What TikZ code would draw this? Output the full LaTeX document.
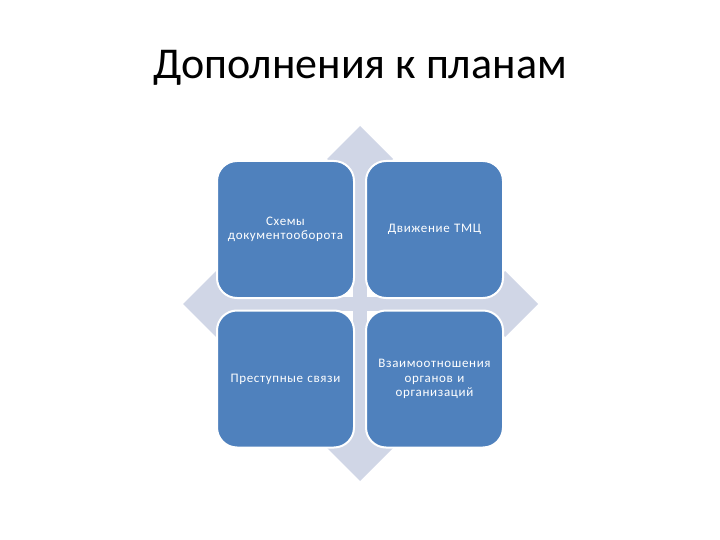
\documentclass[tikz,border=0pt]{standalone}
\usepackage{fontspec}
\setmainfont{Carlito}
\definecolor{tileblue}{HTML}{4F81BD}
\definecolor{crossgray}{HTML}{D0D6E6}

\begin{document}
\begin{tikzpicture}[x=1pt, y=-1pt,
    tile/.style={fill=tileblue, draw=white, line width=2pt, rounded corners=20pt,
      minimum width=137pt, minimum height=137pt, text=white, align=center,
      text width=130pt, font=\fontsize{13}{14.5}\selectfont\addfontfeature{LetterSpace=5}},
    arm/.style={fill=crossgray}]
        \useasboundingbox (0,0) rectangle (720,540);
        \node (title) at (360,68) {\fontsize{44}{50}\selectfont Дополнения к планам};

        \fill[arm] (353,158) rectangle (367,450);
        \fill[arm] (215,297) rectangle (505,311);
        \fill[arm] (360,126) -- (393,159) -- (360,192) -- (327,159) -- cycle;
        \fill[arm] (360,415) -- (393,448) -- (360,481) -- (327,448) -- cycle;
        \fill[arm] (183,304) -- (216,271) -- (249,304) -- (216,337) -- cycle;
        \fill[arm] (538,304) -- (505,271) -- (472,304) -- (505,337) -- cycle;

        \node[tile] (docs) at (285.5,229.5) {Схемы\\документооборота};
        \node[tile] (tmc) at (434.5,229.5) {Движение ТМЦ};
        \node[tile] (crime) at (285.5,379) {Преступные связи};
        \node[tile] (rel) at (434.5,379) {Взаимоотношения\\органов и\\организаций};
    \end{tikzpicture}
\end{document}
